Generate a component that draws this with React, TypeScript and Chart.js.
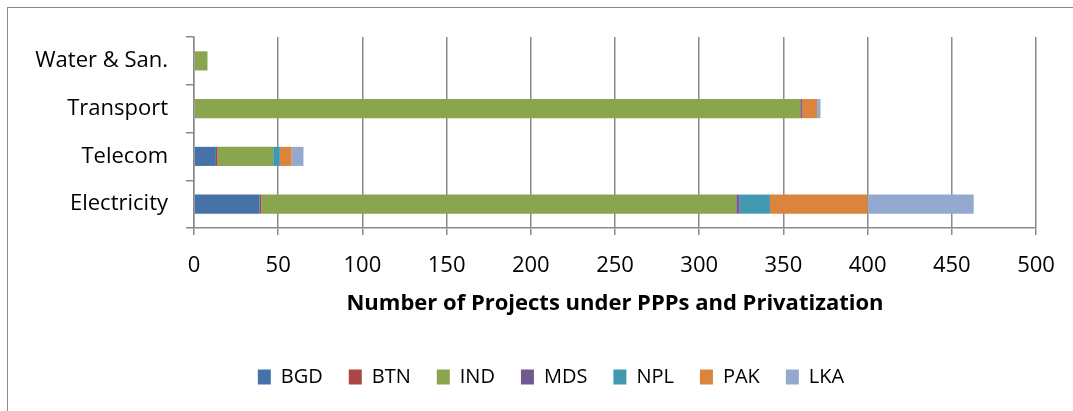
import React, { useEffect, useRef } from "react";
import { Chart, registerables } from "chart.js";

Chart.register(...registerables);

const categories = ["Water & San.", "Transport", "Telecom", "Electricity"];
const seriesNames = ["BGD", "BTN", "IND", "MDS", "NPL", "PAK", "LKA"];
const BGD = [0, 0, 13, 39];
const BTN = [0, 0, 1, 1];
const IND = [8, 360, 33, 282];
const MDS = [0, 1, 0, 2];
const NPL = [0, 0, 4, 18];
const PAK = [0, 9, 7, 58];
const LKA = [0, 2, 7, 63];
const seriesColors = ["#4572A7", "#AA4643", "#89A54E", "#71588F", "#4198AF", "#DB843D", "#93A9CF"];
const xTicks = { min: 0, max: 500, step: 50 };
const axisTitle = "Number of Projects under PPPs and Privatization";

const FONT = "'Open Sans', 'Noto Sans', sans-serif";
const GRID = "#8a8a8a";

const legendShift = {
  id: "legendShift",
  afterLayout(chart: any) {
    const lg = chart.legend;
    if (lg) {
      lg.left += 28;
      lg.right += 28;
    }
  },
};

export default function App() {
  const ref = useRef<HTMLCanvasElement>(null);
  useEffect(() => {
    if (!ref.current) return;
    const values = [BGD, BTN, IND, MDS, NPL, PAK, LKA];
    const chart = new Chart(ref.current, {
      type: "bar",
      plugins: [legendShift],
      data: {
        labels: categories,
        datasets: seriesNames.map((name, i) => ({
          label: name,
          data: values[i],
          backgroundColor: seriesColors[i],
          borderWidth: 0,
          barPercentage: 0.8,
          categoryPercentage: 0.5,
        })),
      },
      options: {
        indexAxis: "y",
        animation: false,
        responsive: false,
        layout: { padding: { left: 10, right: 37, top: 37, bottom: 14 } },
        plugins: {
          tooltip: { enabled: false },
          legend: {
            position: "bottom",
            labels: {
              boxWidth: 13,
              boxHeight: 15,
              padding: 26,
              color: "#000",
              font: { family: FONT, size: 20 },
            },
          },
        },
        scales: {
          x: {
            stacked: true,
            min: xTicks.min,
            max: xTicks.max,
            ticks: { stepSize: xTicks.step, color: "#000", font: { family: FONT, size: 22 }, padding: 18 },
            grid: { color: GRID, lineWidth: 1.5, tickLength: 7 },
            border: { color: GRID, width: 1.5 },
            title: {
              display: true,
              text: axisTitle,
              color: "#000",
              font: { family: FONT, size: 22, weight: "bold" },
              padding: { top: 4, bottom: 24 },
            },
            afterFit: (s: any) => { s.height = 113; },
          },
          y: {
            stacked: true,
            ticks: { color: "#000", font: { family: FONT, size: 22 }, padding: 18 },
            grid: { drawOnChartArea: false, color: GRID, lineWidth: 1.5, tickLength: 8, offset: true },
            border: { color: GRID, width: 1.5 },
            afterFit: (s: any) => { s.width = 184; },
          },
        },
      },
    });
    return () => chart.destroy();
  }, []);
  return (
    <div style={{ position: "absolute", left: 0, top: 0, width: 1073, height: 411, background: "#fff" }}>
      <div style={{ position: "absolute", left: 7, top: 7, right: 0, bottom: 0, borderLeft: "1.5px solid #8a8a8a", borderTop: "1.5px solid #8a8a8a" }} />
      <canvas ref={ref} width={1073} height={411} style={{ position: "absolute", left: 0, top: 0 }} />
    </div>
  );
}
